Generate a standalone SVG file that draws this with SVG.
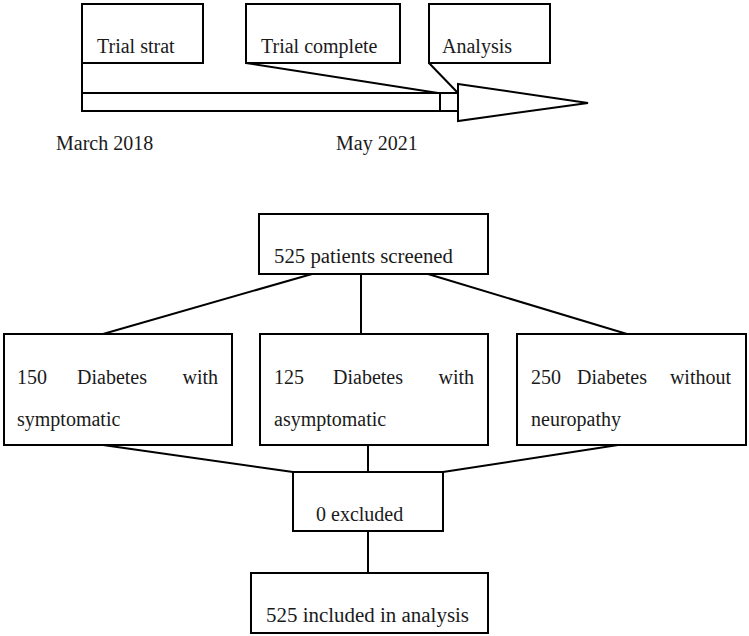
<svg xmlns="http://www.w3.org/2000/svg" width="749" height="636" viewBox="0 0 749 636">
<style>
.b{fill:#fff;stroke:#000;stroke-width:2}
.l{fill:none;stroke:#000;stroke-width:2}
text{font-family:"Liberation Serif","Times New Roman",serif;font-size:20px;fill:#1a1a1a}
</style>
<rect width="749" height="636" fill="#fff"/>
<g id="timeline">
<rect class="b" x="82" y="93" width="376" height="18"/>
<line class="l" x1="440" y1="93" x2="440" y2="111"/>
<polygon class="b" points="458,84 588,103 458,121"/>
<line class="l" x1="82" y1="63" x2="82" y2="93"/>
</g>
<g id="trial-strat">
<rect class="b" x="82" y="4" width="121" height="59"/>
<text x="97" y="53">Trial strat</text>
</g>
<g id="trial-complete">
<rect class="b" x="246" y="4" width="154" height="59"/>
<polyline class="l" points="246,63 438,93"/>
<text x="261" y="53">Trial complete</text>
</g>
<g id="analysis">
<rect class="b" x="429" y="4" width="121" height="59"/>
<polyline class="l" points="429,63 457,92"/>
<text x="442" y="53">Analysis</text>
</g>
<g id="dates">
<text x="56" y="150">March 2018</text>
<text x="336" y="150">May 2021</text>
</g>
<g id="connectors">
<line class="l" x1="312" y1="274" x2="103" y2="334"/>
<line class="l" x1="361" y1="274" x2="361" y2="334"/>
<line class="l" x1="428" y1="274" x2="627" y2="334"/>
<line class="l" x1="103" y1="445" x2="293" y2="472"/>
<line class="l" x1="368" y1="445" x2="368" y2="472"/>
<line class="l" x1="618" y1="445" x2="443" y2="472"/>
<line class="l" x1="368" y1="531" x2="368" y2="573"/>
</g>
<g id="screened">
<rect class="b" x="259" y="214" width="229" height="60"/>
<text x="274" y="263" textLength="179" lengthAdjust="spacingAndGlyphs">525 patients screened</text>
</g>
<g id="symptomatic">
<rect class="b" x="4" y="334" width="228" height="111"/>
<text x="17" y="384">150</text>
<text x="77" y="384">Diabetes</text>
<text x="218" y="384" text-anchor="end">with</text>
<text x="17" y="426">symptomatic</text>
</g>
<g id="asymptomatic">
<rect class="b" x="260" y="334" width="228" height="111"/>
<text x="274" y="384">125</text>
<text x="333" y="384">Diabetes</text>
<text x="474" y="384" text-anchor="end">with</text>
<text x="274" y="426">asymptomatic</text>
</g>
<g id="without">
<rect class="b" x="517" y="334" width="229" height="111"/>
<text x="531" y="384">250</text>
<text x="577" y="384">Diabetes</text>
<text x="731" y="384" text-anchor="end">without</text>
<text x="531" y="426">neuropathy</text>
</g>
<g id="excluded">
<rect class="b" x="293" y="472" width="150" height="59"/>
<text x="316" y="521">0 excluded</text>
</g>
<g id="included">
<rect class="b" x="251" y="573" width="237" height="60"/>
<text x="266" y="622" textLength="203" lengthAdjust="spacingAndGlyphs">525 included in analysis</text>
</g>
</svg>
